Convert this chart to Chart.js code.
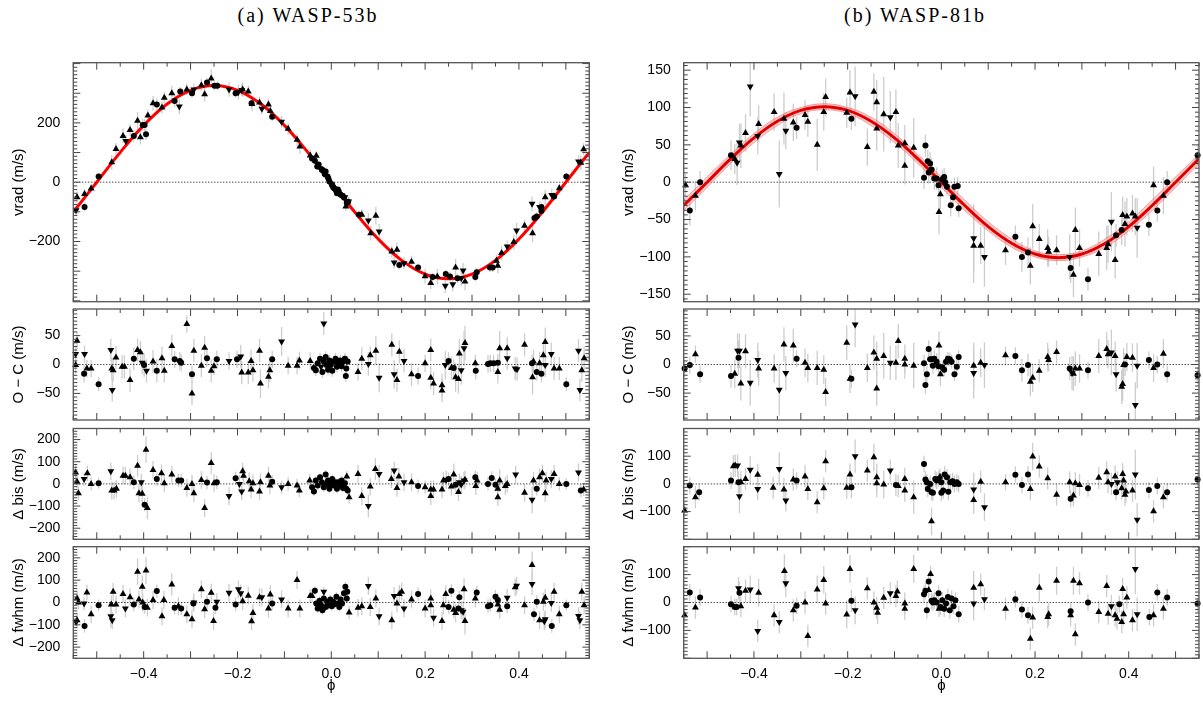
<!DOCTYPE html>
<html lang="en">
<head>
<meta charset="UTF-8">
<title>WASP-53b / WASP-81b radial velocities</title>
<script src="https://cdn.jsdelivr.net/npm/chart.js"></script>
<style>
  body { margin: 0; background: #fff; width: 1203px; height: 701px; position: relative; overflow: hidden; }
  canvas { position: absolute; }
  .ttl { position: absolute; top: 5px; line-height: 20px; font-family: "Liberation Serif", serif; font-size: 20px; letter-spacing: 2px; transform: translateX(-50%); white-space: nowrap; }
</style>
</head>
<body>
<div class="ttl" style="left:308px">(a) WASP-53b</div>
<div class="ttl" style="left:915px">(b) WASP-81b</div>
<script>
// orbital phase grid for the fitted models
var phaseGrid = [-0.55, -0.5, -0.45, -0.4, -0.35, -0.3, -0.25, -0.2, -0.15, -0.1, -0.05, 0, 0.05, 0.1, 0.15, 0.2, 0.25, 0.3, 0.35, 0.4, 0.45, 0.5, 0.55];
var model53 = [-100.7, 0, 100.7, 191.7, 263.7, 310, 326, 310, 263.7, 191.7, 100.7, 0, -100.7, -191.7, -263.7, -310, -326, -310, -263.7, -191.7, -100.7, 0, 100.7];
var model81 = [-31.2, 0, 31.2, 59.4, 81.7, 96.1, 101, 96.1, 81.7, 59.4, 31.2, 0, -31.2, -59.4, -81.7, -96.1, -101, -96.1, -81.7, -59.4, -31.2, 0, 31.2];
var model81Hi = [-24, 7, 37, 65, 87, 100, 105, 100, 87, 65, 37, 7, -24, -53, -76, -92, -97, -92, -76, -53, -24, 7, 37];
var model81Lo = [-38, -7, 25, 53, 76, 92, 97, 92, 76, 53, 25, -7, -38, -65, -87, -100, -105, -100, -87, -65, -38, -7, 25];

// [phase, value, error]  up = triangle, down = inverted triangle, dot = circle
var rv53Up = [[-0.542,-51,20],[-0.526,-40,18],[-0.512,-21,15],[-0.468,67,25],[-0.459,112,20],[-0.444,156,25],[-0.429,176,20],[-0.413,207,30],[-0.407,152,25],[-0.391,225,20],[-0.380,266,25],[-0.361,252,20],[-0.356,285,20],[-0.340,300,25],[-0.308,313,20],[-0.277,327,20],[-0.270,297,25],[-0.256,350,30],[-0.189,313,25],[-0.177,306,20],[-0.169,264,25],[-0.153,269,20],[-0.134,262,20],[-0.130,240,25],[-0.092,180,20],[-0.073,143,20],[-0.067,120,25],[-0.045,90,20],[-0.032,89,15],[0.031,-82,15],[0.065,-110,20],[0.095,-113,30],[0.084,-172,25],[0.129,-234,20],[0.140,-228,25],[0.171,-268,20],[0.200,-317,25],[0.212,-340,20],[0.226,-318,25],[0.265,-288,30],[0.285,-335,30],[0.355,-282,25],[0.352,-265,20],[0.363,-239,25],[0.389,-202,25],[0.412,-147,20],[0.429,-172,30],[0.456,-51,25],[0.486,-20,15],[0.532,66,25],[0.538,111,20]];
var rv53Down = [[-0.544,-95,20],[-0.438,139,20],[-0.324,255,25],[-0.293,313,20],[-0.218,313,25],[-0.198,304,25],[-0.191,311,20],[-0.148,248,20],[-0.106,204,20],[-0.024,47,15],[-0.016,30,15],[0.008,-26,12],[0.029,-51,15],[0.037,-65,15],[0.079,-129,25],[0.102,-166,25],[0.134,-271,20],[0.155,-273,20],[0.243,-349,25],[0.259,-344,25],[0.277,-324,25],[0.281,-298,25],[0.375,-217,20],[0.395,-163,25],[0.428,-73,25],[0.444,-84,20],[0.470,-43,20],[0.527,70,20]];
var rv53Dot = [[-0.526,-84,15],[-0.496,19,12],[-0.421,156,20],[-0.402,193,20],[-0.398,193,20],[-0.395,162,20],[-0.372,262,20],[-0.334,274,20],[-0.322,306,15],[-0.297,300,15],[-0.265,336,15],[-0.249,325,15],[-0.243,325,15],[-0.204,300,15],[-0.170,266,15],[-0.126,221,15],[-0.041,80,12],[-0.035,72,12],[-0.030,53,12],[-0.027,60,10],[-0.020,42,10],[-0.018,40,10],[-0.014,28,10],[-0.012,36,10],[-0.008,19,10],[-0.006,12,10],[-0.004,2,10],[0.001,-7,10],[0.002,-10,10],[0.004,-17,10],[0.006,-20,10],[0.010,-28,10],[0.012,-37,10],[0.014,-25,10],[0.016,-31,10],[0.020,-42,10],[0.024,-46,10],[0.027,-52,10],[0.033,-69,12],[0.036,-66,12],[0.059,-110,15],[0.145,-279,15],[0.185,-288,15],[0.216,-320,15],[0.244,-310,15],[0.253,-318,15],[0.269,-324,15],[0.307,-320,15],[0.310,-304,15],[0.338,-288,15],[0.344,-288,15],[0.433,-121,15],[0.438,-116,15],[0.448,-97,15],[0.448,-84,15],[0.475,-48,15],[0.501,19,12]];

var oc53Up = [[-0.542,41,15],[-0.545,-1,15],[-0.521,-7,15],[-0.512,-7,15],[-0.468,-7,20],[-0.465,-10,20],[-0.459,12,20],[-0.446,-4,20],[-0.441,-4,20],[-0.429,-27,20],[-0.413,25,20],[-0.407,21,20],[-0.380,5,20],[-0.361,11,20],[-0.356,-11,20],[-0.340,32,20],[-0.308,70,15],[-0.297,-50,20],[-0.293,24,20],[-0.277,-2,20],[-0.270,29,20],[-0.256,-11,20],[-0.250,-3,15],[-0.191,-14,20],[-0.177,-14,20],[-0.171,6,20],[-0.167,-10,20],[-0.153,24,20],[-0.151,-33,25],[-0.134,-21,20],[-0.131,-10,20],[-0.092,-2,15],[-0.073,-2,15],[-0.068,7,15],[-0.045,6,15],[0.057,-13,15],[0.065,10,20],[0.083,16,15],[0.095,24,25],[0.129,34,20],[0.140,-27,20],[0.145,22,20],[0.171,-17,20],[0.200,2,15],[0.212,-23,20],[0.212,25,20],[0.218,-33,20],[0.236,-36,20],[0.236,-45,20],[0.256,-6,20],[0.265,-22,25],[0.271,-25,25],[0.273,19,25],[0.285,37,30],[0.307,2,15],[0.355,-13,20],[0.359,28,30],[0.375,28,20],[0.412,34,20],[0.429,-22,30],[0.431,5,20],[0.444,2,20],[0.452,16,20],[0.456,39,25],[0.475,-7,20],[0.486,-7,20],[0.534,-10,20],[0.539,11,20]];
var oc53Down = [[-0.545,18,15],[-0.526,18,15],[-0.470,25,20],[-0.467,-44,20],[-0.403,3,20],[-0.394,-11,20],[-0.218,6,15],[-0.193,14,20],[-0.106,40,25],[-0.022,-4,10],[-0.016,71,20],[0.079,1,20],[0.102,-23,25],[0.134,-17,25],[0.155,6,20],[0.243,-1,25],[0.277,-10,25],[0.283,28,30],[0.375,11,20],[0.392,-7,20],[0.396,-8,20],[0.456,-1,20],[0.469,18,20],[0.527,24,20],[0.530,-44,20]];
var oc53Dot = [[-0.527,-16,15],[-0.496,-34,12],[-0.421,10,20],[-0.399,-1,20],[-0.372,-11,20],[-0.334,9,15],[-0.323,6,15],[-0.320,3,15],[-0.297,-17,15],[-0.265,11,15],[-0.244,9,15],[-0.201,9,15],[-0.126,9,15],[-0.037,-6,10],[-0.033,-10,10],[-0.029,2,10],[-0.024,10,10],[-0.019,-13,10],[-0.016,5,10],[-0.012,13,10],[-0.010,-1,10],[-0.007,-9,10],[-0.004,7,10],[-0.001,-1,10],[0.002,-11,10],[0.006,5,10],[0.009,10,10],[0.012,-4,10],[0.015,2,10],[0.019,7,10],[0.022,-3,10],[0.025,5,10],[0.029,10,10],[0.032,-7,10],[0.035,5,10],[0.031,-20,10],[0.185,-20,15],[0.250,6,15],[0.261,-6,15],[0.308,-11,15],[0.334,1,15],[0.339,2,15],[0.346,2,15],[0.355,3,15],[0.428,2,15],[0.438,-13,15],[0.448,-16,15],[0.501,-34,12]];

var bis53Up = [[-0.545,52,35],[-0.542,10,30],[-0.539,-42,30],[-0.520,48,35],[-0.512,0,30],[-0.468,-30,40],[-0.463,-30,40],[-0.458,-22,40],[-0.444,37,40],[-0.439,37,40],[-0.429,30,40],[-0.413,82,50],[-0.410,-42,40],[-0.403,-45,40],[-0.395,154,60],[-0.392,-109,50],[-0.380,63,40],[-0.362,48,40],[-0.356,3,40],[-0.340,42,40],[-0.308,-18,40],[-0.297,0,40],[-0.293,-42,40],[-0.277,18,40],[-0.270,-109,40],[-0.256,94,50],[-0.250,3,40],[-0.189,57,40],[-0.187,37,40],[-0.175,12,40],[-0.171,-25,40],[-0.167,3,40],[-0.153,-34,40],[-0.151,7,40],[-0.134,37,40],[-0.131,-7,40],[-0.092,0,30],[-0.073,-7,30],[-0.068,-30,30],[-0.046,15,30],[0.033,33,25],[0.038,-60,30],[0.057,45,40],[0.065,-55,40],[0.083,-12,40],[0.094,67,50],[0.128,22,40],[0.140,-18,40],[0.144,33,40],[0.171,7,40],[0.200,-15,30],[0.212,-55,40],[0.212,-25,40],[0.218,-25,40],[0.236,-25,40],[0.239,15,40],[0.256,-12,40],[0.261,42,50],[0.271,-37,40],[0.285,19,40],[0.308,-10,40],[0.311,15,40],[0.355,-22,40],[0.355,-60,40],[0.359,15,50],[0.371,-10,40],[0.375,0,40],[0.412,-40,40],[0.431,15,40],[0.444,30,40],[0.450,48,40],[0.456,-42,40],[0.458,15,40],[0.475,45,40],[0.486,0,30],[0.538,-25,30]];
var bis53Down = [[-0.527,22,30],[-0.470,57,40],[-0.405,7,40],[-0.218,-55,40],[-0.196,0,40],[-0.191,-34,40],[-0.106,-15,30],[0.079,-100,50],[0.102,45,40],[0.134,60,40],[0.155,7,40],[0.245,19,40],[0.273,7,40],[0.277,-3,40],[0.283,15,40],[0.393,42,40],[0.428,-72,60],[0.469,22,40],[0.527,52,40]];
var bis53Dot = [[-0.496,3,25],[-0.421,7,30],[-0.398,-94,30],[-0.372,22,30],[-0.326,15,30],[-0.320,15,30],[-0.265,6,30],[-0.244,7,30],[-0.204,25,30],[-0.126,10,30],[-0.041,-15,20],[-0.037,-34,20],[-0.033,15,20],[-0.029,-7,20],[-0.024,30,20],[-0.020,7,20],[-0.016,-15,20],[-0.012,42,20],[-0.010,0,20],[-0.007,15,20],[-0.004,-22,20],[-0.001,3,20],[0.002,22,20],[0.006,-7,20],[0.009,7,20],[0.012,-22,20],[0.015,7,20],[0.019,-7,20],[0.022,15,20],[0.025,-18,20],[0.029,3,20],[0.032,-22,20],[0.035,-30,20],[0.185,-10,30],[0.250,22,30],[0.265,-4,30],[0.307,30,30],[0.334,0,30],[0.342,27,30],[0.350,-4,30],[0.438,-22,30],[0.501,0,25],[0.532,-30,30]];

var fwhm53Up = [[-0.542,-80,35],[-0.542,18,30],[-0.539,0,30],[-0.521,45,35],[-0.512,-53,40],[-0.465,48,40],[-0.469,-9,40],[-0.459,-9,40],[-0.444,38,40],[-0.429,23,40],[-0.413,138,60],[-0.410,14,40],[-0.403,71,50],[-0.402,0,40],[-0.395,143,60],[-0.392,-23,40],[-0.380,11,40],[-0.361,-62,40],[-0.357,11,40],[-0.340,81,50],[-0.326,-17,40],[-0.308,-53,40],[-0.297,-75,40],[-0.277,59,40],[-0.270,-30,40],[-0.256,44,40],[-0.251,-83,40],[-0.189,6,40],[-0.177,30,40],[-0.170,-84,40],[-0.167,-47,40],[-0.153,23,40],[-0.134,-27,40],[-0.130,36,40],[-0.092,-27,40],[-0.073,101,40],[-0.067,-27,40],[-0.045,29,30],[-0.041,29,30],[0.038,-45,30],[0.057,-24,40],[0.065,-17,40],[0.083,-20,40],[0.095,18,40],[0.129,-80,40],[0.140,-5,40],[0.145,38,40],[0.150,48,40],[0.171,14,40],[0.200,-27,40],[0.212,18,40],[0.212,-12,40],[0.236,-83,40],[0.239,-12,40],[0.244,38,40],[0.261,-32,40],[0.265,-47,40],[0.283,59,50],[0.285,-83,60],[0.307,18,40],[0.355,-9,40],[0.359,-32,40],[0.392,68,40],[0.412,-12,40],[0.428,168,60],[0.444,-80,40],[0.452,3,40],[0.456,21,40],[0.475,48,40],[0.486,-53,40],[0.534,48,40],[0.539,-12,40]];
var fwhm53Down = [[-0.544,-87,30],[-0.527,-5,30],[-0.470,-62,50],[-0.467,-80,40],[-0.439,-27,40],[-0.293,0,40],[-0.244,3,40],[-0.218,44,40],[-0.198,59,40],[-0.193,41,40],[-0.148,23,40],[-0.106,14,40],[-0.016,48,20],[0.079,74,40],[0.102,-62,40],[0.134,29,40],[0.155,-27,40],[0.218,-68,40],[0.277,-35,40],[0.281,-42,50],[0.375,21,40],[0.395,75,40],[0.428,83,50],[0.454,-84,40],[0.456,-75,40],[0.469,-2,40],[0.527,-60,40],[0.530,-80,40]];
var fwhm53Dot = [[-0.526,-105,30],[-0.496,-12,25],[-0.421,-9,30],[-0.398,-20,30],[-0.372,51,30],[-0.334,-24,30],[-0.320,-27,30],[-0.294,-5,30],[-0.265,3,30],[-0.247,-23,30],[-0.204,-9,30],[-0.126,-5,30],[-0.035,53,20],[-0.032,-5,20],[-0.029,-27,20],[-0.025,8,20],[-0.022,-12,20],[-0.019,-35,20],[-0.016,18,20],[-0.012,-20,20],[-0.009,3,20],[-0.006,-12,20],[-0.002,14,20],[0.001,-17,20],[0.004,3,20],[0.007,-8,20],[0.011,26,20],[0.014,-5,20],[0.017,-20,20],[0.020,14,20],[0.023,-5,20],[0.027,41,20],[0.030,71,20],[0.033,18,20],[0.034,48,20],[0.185,38,30],[0.250,-20,30],[0.256,53,30],[0.271,-27,30],[0.273,23,30],[0.310,45,30],[0.334,-17,30],[0.339,-12,30],[0.350,26,30],[0.355,11,30],[0.375,-17,30],[0.432,-53,30],[0.438,3,30],[0.470,-105,30],[0.501,-12,25]];

var rv81Up = [[-0.546,-4,15],[-0.525,-18,20],[-0.441,31,20],[-0.428,49,30],[-0.418,66,25],[-0.390,78,25],[-0.357,94,25],[-0.336,85,35],[-0.316,80,25],[-0.291,90,20],[-0.285,81,20],[-0.265,50,35],[-0.251,94,25],[-0.247,114,25],[-0.202,93,20],[-0.195,120,30],[-0.158,47,25],[-0.144,121,25],[-0.138,107,30],[-0.138,72,30],[-0.123,91,50],[-0.097,94,30],[-0.092,49,30],[-0.078,52,25],[-0.078,22,25],[-0.059,46,40],[-0.002,-16,20],[-0.005,-40,30],[0.069,-85,50],[0.084,-85,25],[0.137,-91,20],[0.190,-112,25],[0.195,-59,30],[0.209,-76,20],[0.227,-88,25],[0.229,-93,20],[0.246,-91,20],[0.282,-124,30],[0.286,-64,30],[0.295,-88,25],[0.336,-96,30],[0.353,-88,30],[0.356,-83,25],[0.371,-104,25],[0.387,-44,25],[0.392,-56,30],[0.396,-46,25],[0.408,-42,25],[0.414,-46,25],[0.453,-4,25],[0.474,-18,25]];
var rv81Down = [[-0.436,26,30],[-0.431,53,25],[-0.408,128,40],[-0.392,62,25],[-0.346,11,45],[-0.332,69,25],[-0.184,115,40],[-0.109,87,35],[0.069,-75,45],[0.092,-100,40],[0.274,-100,30],[0.363,-53,40],[0.418,-61,40]];
var rv81Dot = [[-0.537,-38,20],[-0.515,0,15],[-0.449,36,20],[-0.309,73,15],[-0.192,85,15],[-0.037,6,15],[-0.034,49,15],[-0.029,28,15],[-0.027,13,15],[-0.024,25,15],[-0.021,17,15],[-0.015,5,15],[-0.010,5,15],[-0.006,-4,12],[0.002,4,12],[0.006,7,12],[0.008,0,12],[0.012,-6,12],[0.020,-31,15],[0.025,-20,12],[0.028,-6,12],[0.035,-5,12],[0.037,-35,12],[0.158,-73,15],[0.172,-100,20],[0.185,-94,20],[0.276,-115,20],[0.313,-130,15],[0.373,-71,15],[0.385,-64,20],[0.443,-57,15],[0.461,-38,15],[0.482,0,15],[0.547,36,15]];

var oc81Up = [[-0.525,18,15],[-0.441,-16,25],[-0.428,-33,30],[-0.418,23,30],[-0.390,-7,30],[-0.357,-7,25],[-0.336,35,30],[-0.316,33,30],[-0.291,3,25],[-0.285,-6,25],[-0.265,-6,30],[-0.251,-9,25],[-0.247,-48,25],[-0.202,38,30],[-0.195,-25,25],[-0.158,-6,25],[-0.144,21,30],[-0.138,10,30],[-0.138,-42,30],[-0.123,15,40],[-0.097,3,30],[-0.092,41,30],[-0.078,10,25],[-0.078,0,25],[-0.059,-2,40],[-0.005,33,25],[-0.002,-17,20],[0.069,-2,40],[0.084,3,25],[0.137,16,15],[0.190,-30,25],[0.195,-23,25],[0.209,-11,20],[0.227,13,25],[0.229,8,20],[0.246,22,20],[0.282,-16,30],[0.286,-7,30],[0.295,-7,25],[0.336,15,30],[0.353,27,30],[0.356,18,25],[0.371,15,25],[0.385,-39,30],[0.387,-34,30],[0.389,-1,30],[0.396,13,25],[0.408,12,25],[0.453,-6,25],[0.474,19,25]];
var oc81Down = [[-0.435,24,30],[-0.431,24,30],[-0.408,-32,40],[-0.392,8,30],[-0.346,-44,45],[-0.332,-15,30],[-0.184,70,40],[-0.109,3,30],[0.069,-15,45],[0.092,-1,40],[0.279,-15,30],[0.363,21,40],[0.373,-17,30],[0.414,-71,40],[0.418,-2,40]];
var oc81Dot = [[-0.548,-7,15],[-0.537,-1,15],[-0.515,-17,15],[-0.449,-20,20],[-0.433,12,30],[-0.309,10,15],[-0.192,-25,15],[-0.037,2,15],[-0.034,-36,15],[-0.031,-17,15],[-0.027,27,15],[-0.024,9,15],[-0.021,9,15],[-0.018,-2,15],[-0.015,10,15],[-0.010,5,15],[-0.006,-3,12],[0.002,-5,12],[0.006,-9,12],[0.010,5,12],[0.014,10,12],[0.018,9,12],[0.022,5,12],[0.028,-17,12],[0.033,-4,12],[0.037,13,12],[0.158,15,15],[0.172,-10,20],[0.185,-1,20],[0.274,-7,20],[0.313,-10,15],[0.392,0,20],[0.443,8,15],[0.461,0,15],[0.482,-17,15],[0.547,-19,15]];

var bis81Up = [[-0.548,-96,30],[-0.525,-48,40],[-0.444,64,40],[-0.440,66,40],[-0.428,6,40],[-0.418,18,40],[-0.392,33,40],[-0.359,-14,40],[-0.336,-20,40],[-0.316,16,40],[-0.291,27,40],[-0.285,-18,40],[-0.265,-66,40],[-0.251,-16,40],[-0.247,82,40],[-0.202,-14,40],[-0.195,34,40],[-0.158,48,40],[-0.144,96,50],[-0.138,24,50],[-0.138,2,50],[-0.123,-2,50],[-0.092,-8,40],[-0.078,18,40],[-0.078,-24,40],[-0.059,-48,60],[-0.021,-135,50],[-0.003,26,30],[0.069,-58,50],[0.084,8,40],[0.137,6,30],[0.190,-18,40],[0.195,99,50],[0.209,63,40],[0.227,20,40],[0.246,-39,40],[0.274,6,40],[0.282,-42,40],[0.286,2,40],[0.295,-4,40],[0.336,22,40],[0.353,42,40],[0.356,6,40],[0.371,27,40],[0.385,-16,40],[0.387,36,40],[0.389,12,40],[0.392,-39,40],[0.394,-27,40],[0.408,-24,40],[0.453,-99,40],[0.474,-48,40]];
var bis81Down = [[-0.435,66,40],[-0.431,-45,60],[-0.408,51,50],[-0.392,-18,40],[-0.346,54,60],[-0.332,-60,40],[-0.184,100,60],[-0.109,48,40],[0.069,-20,60],[0.092,-84,50],[0.363,0,40],[0.376,6,40],[0.414,34,90],[0.418,-129,60]];
var bis81Dot = [[-0.537,-6,30],[-0.517,-30,30],[-0.449,12,30],[-0.433,6,40],[-0.309,12,30],[-0.192,-12,40],[-0.097,-4,40],[-0.037,72,30],[-0.034,16,30],[-0.031,6,30],[-0.029,-18,30],[-0.024,0,30],[-0.021,-30,30],[-0.018,-32,30],[-0.013,18,30],[-0.010,12,30],[-0.006,18,30],[0.000,6,30],[0.000,-32,30],[0.004,-24,30],[0.007,34,30],[0.012,24,30],[0.015,-28,30],[0.019,6,30],[0.024,10,30],[0.028,0,30],[0.033,6,30],[0.037,0,30],[0.158,33,30],[0.172,-4,30],[0.185,34,30],[0.276,-54,30],[0.313,-16,30],[0.373,-30,30],[0.443,-22,30],[0.461,-8,30],[0.482,-30,30],[0.547,16,30]];

var fwhm81Up = [[-0.548,-46,30],[-0.525,-18,40],[-0.428,-13,40],[-0.418,42,40],[-0.390,35,50],[-0.357,-46,40],[-0.335,113,60],[-0.316,-28,40],[-0.291,0,40],[-0.285,-120,40],[-0.265,47,50],[-0.251,81,50],[-0.247,-4,40],[-0.202,-43,50],[-0.195,120,50],[-0.158,51,40],[-0.144,0,40],[-0.138,-19,40],[-0.136,-37,40],[-0.123,17,40],[-0.097,23,40],[-0.094,39,40],[-0.078,-4,40],[-0.078,-22,40],[-0.059,120,50],[-0.027,45,30],[-0.023,102,30],[-0.005,-22,30],[0.069,53,60],[0.084,65,40],[0.137,-22,40],[0.190,-130,40],[0.195,-54,40],[0.209,53,50],[0.227,-52,40],[0.229,-42,40],[0.246,78,50],[0.276,-46,40],[0.282,78,50],[0.286,-114,40],[0.295,69,40],[0.336,-34,40],[0.353,59,40],[0.356,-40,40],[0.371,-46,40],[0.375,-58,40],[0.385,-70,40],[0.387,48,40],[0.389,-42,40],[0.396,18,40],[0.408,-64,40],[0.453,-46,40],[0.474,-22,40]];
var fwhm81Down = [[-0.433,51,40],[-0.408,47,50],[-0.392,-102,40],[-0.346,-70,40],[-0.332,69,50],[-0.184,-28,50],[-0.109,33,40],[0.069,-4,60],[0.092,12,40],[0.363,-13,40],[0.414,120,90],[0.418,-42,60]];
var fwhm81Dot = [[-0.537,36,30],[-0.515,18,30],[-0.449,-6,30],[-0.441,-16,30],[-0.437,-16,30],[-0.431,35,40],[-0.309,-12,30],[-0.192,6,40],[-0.037,30,30],[-0.034,42,30],[-0.031,-28,30],[-0.027,75,30],[-0.021,6,30],[-0.018,0,30],[-0.015,8,30],[-0.010,0,30],[-0.006,33,30],[-0.002,-16,30],[0.002,8,30],[0.006,-22,30],[0.010,-4,30],[0.014,20,30],[0.018,-28,30],[0.022,14,30],[0.026,-13,30],[0.030,8,30],[0.037,-42,30],[0.158,12,30],[0.172,-25,30],[0.185,-46,30],[0.276,-31,30],[0.313,0,30],[0.380,-6,30],[0.444,-52,30],[0.461,36,30],[0.482,18,30],[0.547,-4,30]];

var phaseTicks = [-0.4, -0.2, 0, 0.2, 0.4];

Chart.defaults.font.family = '"Liberation Sans", Arial, sans-serif';
Chart.defaults.font.size = 14;
Chart.defaults.color = '#000';

// column / row geometry of the plot frames (page pixels)
var cols = [
  { cx: 0, cw: 600, left: 73.3, right: 589.3, titleX: 19 },
  { cx: 600, cw: 603, left: 683.7, right: 1199, titleX: 629 }
];
var rows = [
  { top: 62.7, bottom: 301.7 },
  { top: 309, bottom: 420 },
  { top: 428.5, bottom: 539.3 },
  { top: 546.7, bottom: 658.3 }
];

function pts(rows, style, rot, r) {
  return {
    data: rows.map(function (p) { return { x: p[0], y: p[1] }; }),
    errs: rows.map(function (p) { return p[2]; }),
    pointStyle: style, pointRotation: rot, pointRadius: r, pointHoverRadius: r,
    backgroundColor: '#000', borderColor: '#000', borderWidth: 0,
    showLine: false, order: 1, clip: 5
  };
}
function marks(up, down, dot) {
  return [pts(up, 'triangle', 0, 4), pts(down, 'triangle', 180, 4), pts(dot, 'circle', 0, 3)];
}
function curve(vals, color, width, order, fill, bg) {
  return {
    data: phaseGrid.map(function (p, i) { return { x: p, y: vals[i] }; }),
    showLine: true, borderColor: color, borderWidth: width, pointRadius: 0,
    tension: 0.4, order: order, fill: fill || false, backgroundColor: bg || 'transparent', clip: 0
  };
}
function zeroLine() {
  return {
    data: [{ x: -0.55, y: 0 }, { x: 0.55, y: 0 }], showLine: true,
    borderColor: '#000', borderWidth: 1, borderDash: [1, 2], pointRadius: 0, order: 6, clip: 0
  };
}

var panels = [
  { col: 0, row: 0, label: 'vrad (m/s)', min: -403, max: 403, ticks: [-200, 0, 200], major: 100, minor: 12.5,
    sets: marks(rv53Up, rv53Down, rv53Dot).concat([curve(model53, '#ff0000', 3, 2), zeroLine()]) },
  { col: 0, row: 1, label: 'O \u2212 C (m/s)', min: -96, max: 96, ticks: [-50, 0, 50], major: 50, minor: 6.25,
    sets: marks(oc53Up, oc53Down, oc53Dot).concat([zeroLine()]) },
  { col: 0, row: 2, label: '\u0394 bis (m/s)', min: -250, max: 250, ticks: [-200, -100, 0, 100, 200], major: 100, minor: 12.5,
    sets: marks(bis53Up, bis53Down, bis53Dot).concat([zeroLine()]) },
  { col: 0, row: 3, label: '\u0394 fwhm (m/s)', min: -250, max: 250, ticks: [-200, -100, 0, 100, 200], major: 100, minor: 12.5,
    sets: marks(fwhm53Up, fwhm53Down, fwhm53Dot).concat([zeroLine()]) },
  { col: 1, row: 0, label: 'vrad (m/s)', min: -160, max: 160, ticks: [-150, -100, -50, 0, 50, 100, 150], major: 50, minor: 6.25,
    sets: marks(rv81Up, rv81Down, rv81Dot).concat([
      curve(model81, '#e00000', 3, 2),
      curve(model81Hi, 'rgba(255,90,90,0.6)', 1, 3, '+1', 'rgba(255,120,120,0.35)'),
      curve(model81Lo, 'rgba(255,90,90,0.6)', 1, 4),
      zeroLine()]) },
  { col: 1, row: 1, label: 'O \u2212 C (m/s)', min: -97, max: 97, ticks: [-50, 0, 50], major: 50, minor: 6.25,
    sets: marks(oc81Up, oc81Down, oc81Dot).concat([zeroLine()]) },
  { col: 1, row: 2, label: '\u0394 bis (m/s)', min: -200, max: 200, ticks: [-100, 0, 100], major: 100, minor: 12.5,
    sets: marks(bis81Up, bis81Down, bis81Dot).concat([zeroLine()]) },
  { col: 1, row: 3, label: '\u0394 fwhm (m/s)', min: -200, max: 200, ticks: [-100, 0, 100], major: 100, minor: 12.5,
    sets: marks(fwhm81Up, fwhm81Down, fwhm81Dot).concat([zeroLine()]) }
];

var errBars = {
  id: 'errBars',
  beforeDatasetsDraw: function (chart) {
    var ctx = chart.ctx, a = chart.chartArea, x = chart.scales.x, y = chart.scales.y;
    ctx.save();
    ctx.beginPath(); ctx.rect(a.left, a.top, a.width, a.height); ctx.clip();
    ctx.strokeStyle = '#cdcdcd'; ctx.lineWidth = 1.3;
    chart.data.datasets.forEach(function (ds) {
      if (!ds.errs) return;
      ds.data.forEach(function (p, i) {
        var px = x.getPixelForValue(p.x);
        ctx.beginPath();
        ctx.moveTo(px, y.getPixelForValue(p.y - ds.errs[i]));
        ctx.lineTo(px, y.getPixelForValue(p.y + ds.errs[i]));
        ctx.stroke();
      });
    });
    ctx.restore();
  }
};

// gnuplot style frame with inward ticks on all four sides
var frameTicks = {
  id: 'frameTicks',
  afterDraw: function (chart, args, o) {
    var ctx = chart.ctx, a = chart.chartArea, x = chart.scales.x, y = chart.scales.y;
    ctx.save();
    ctx.strokeStyle = '#444'; ctx.lineWidth = 1;
    ctx.beginPath();
    for (var i = -11; i <= 11; i++) {
      var px = x.getPixelForValue(i * 0.05);
      var len = i % 2 === 0 ? 7 : 4;
      ctx.moveTo(px, a.top); ctx.lineTo(px, a.top + len);
      ctx.moveTo(px, a.bottom); ctx.lineTo(px, a.bottom - len);
    }
    var start = Math.ceil(y.min / o.minor) * o.minor;
    for (var v = start; v <= y.max; v += o.minor) {
      var py = y.getPixelForValue(v);
      var l = Math.abs(v / o.major - Math.round(v / o.major)) < 1e-6 ? 7 : 4;
      ctx.moveTo(a.left, py); ctx.lineTo(a.left + l, py);
      ctx.moveTo(a.right, py); ctx.lineTo(a.right - l, py);
    }
    ctx.stroke();
    ctx.strokeStyle = '#555'; ctx.lineWidth = 1.3;
    ctx.strokeRect(a.left, a.top, a.right - a.left, a.bottom - a.top);
    ctx.restore();
  }
};

function minus(s) { return String(s).replace('-', '\u2212'); }

panels.forEach(function (p) {
  var c = cols[p.col], r = rows[p.row], last = p.row === 3;
  // generous margins so the library's own label padding never pushes the frame
  var top = Math.floor(r.top) - 28;
  var bottom = last ? 701 : Math.ceil(r.bottom) + 28;
  var cv = document.createElement('canvas');
  cv.width = c.cw; cv.height = bottom - top;
  cv.style.left = c.cx + 'px'; cv.style.top = top + 'px';
  document.body.appendChild(cv);

  new Chart(cv.getContext('2d'), {
    type: 'scatter',
    data: { datasets: p.sets },
    options: {
      responsive: false, animation: false, events: [],
      layout: { padding: {
        left: 0, right: c.cw - (c.right - c.cx), top: r.top - top,
        bottom: last ? 0 : (bottom - r.bottom)
      } },
      plugins: { legend: { display: false }, tooltip: { enabled: false },
        frameTicks: { major: p.major, minor: p.minor } },
      scales: {
        x: {
          type: 'linear', min: -0.55, max: 0.55, display: last,
          grid: { display: false, drawTicks: false }, border: { display: false },
          afterBuildTicks: function (s) { s.ticks = phaseTicks.map(function (v) { return { value: v }; }); },
          afterFit: function (s) { if (last) s.height = bottom - r.bottom; },
          ticks: { padding: 7, maxRotation: 0, autoSkip: false,
            callback: function (v) { return (v < -1e-9 ? '\u2212' : '') + Math.abs(v).toFixed(1); } },
          title: { display: true, text: '\u03d5', font: { size: 15 }, padding: { top: 0, bottom: 6 } }
        },
        y: {
          type: 'linear', min: p.min, max: p.max,
          grid: { display: false, drawTicks: false }, border: { display: false },
          afterBuildTicks: function (s) { s.ticks = p.ticks.map(function (v) { return { value: v }; }); },
          afterFit: function (s) { s.width = c.left - c.cx; },
          ticks: { padding: 13, autoSkip: false, callback: function (v) { return minus(v); } },
          title: { display: true, text: p.label, font: { size: 15 }, padding: { top: c.titleX - c.cx - 9, bottom: 0 } }
        }
      }
    },
    plugins: [errBars, frameTicks]
  });
});
</script>
</body>
</html>
